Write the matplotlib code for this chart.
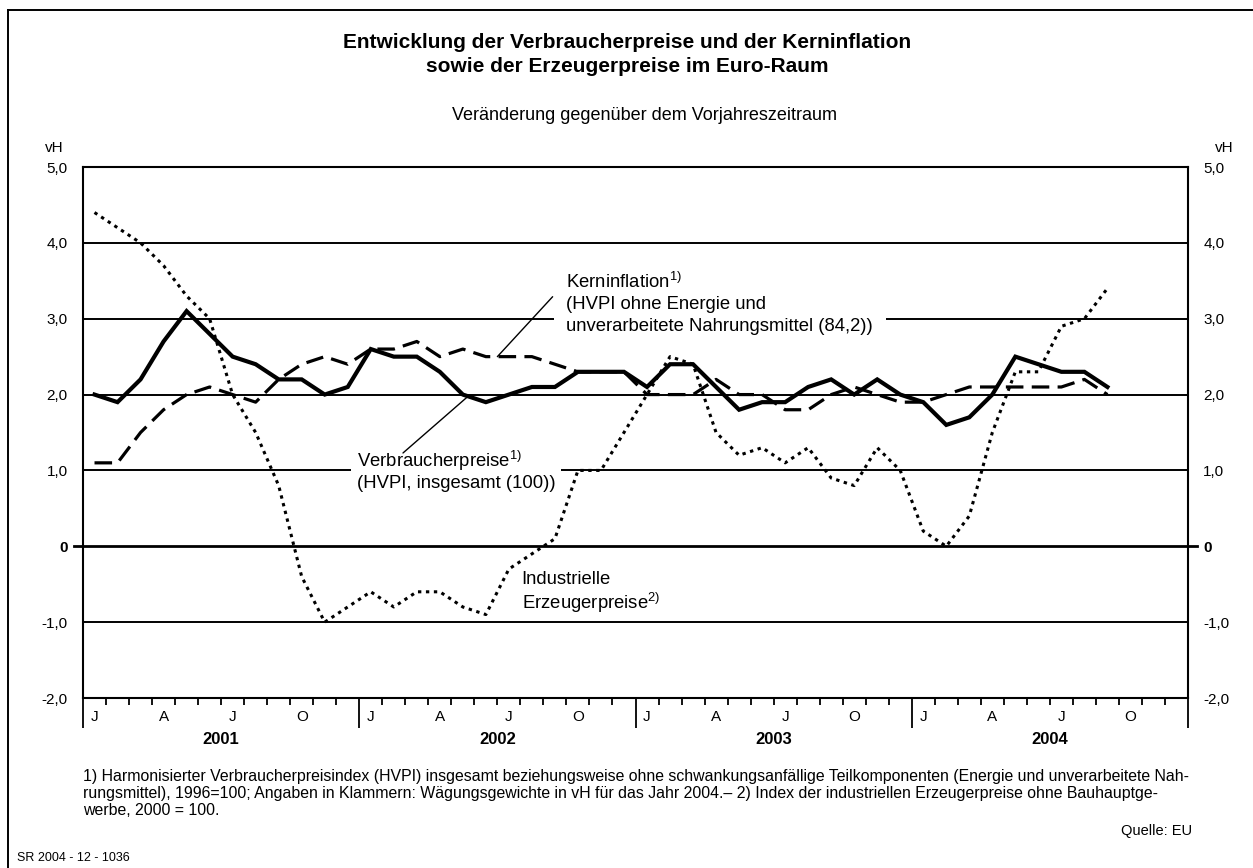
import matplotlib
matplotlib.use("Agg")
import matplotlib.pyplot as plt
from matplotlib.lines import Line2D
import numpy as np

plt.rcParams['font.family'] = ['Liberation Sans', 'DejaVu Sans']
plt.rcParams['mathtext.fontset'] = 'custom'
plt.rcParams['mathtext.rm'] = 'Liberation Sans'
plt.rcParams['mathtext.it'] = 'Liberation Sans:italic'
plt.rcParams['mathtext.bf'] = 'Liberation Sans:bold'

# monthly values, Jan 2001 .. Sep 2004, change vs. previous year in vH
hvpi = [2.0, 1.9, 2.2, 2.7, 3.1, 2.8, 2.5, 2.4, 2.2, 2.2, 2.0, 2.1,
        2.6, 2.5, 2.5, 2.3, 2.0, 1.9, 2.0, 2.1, 2.1, 2.3, 2.3, 2.3,
        2.1, 2.4, 2.4, 2.1, 1.8, 1.9, 1.9, 2.1, 2.2, 2.0, 2.2, 2.0,
        1.9, 1.6, 1.7, 2.0, 2.5, 2.4, 2.3, 2.3, 2.1]
kern = [1.1, 1.1, 1.5, 1.8, 2.0, 2.1, 2.0, 1.9, 2.2, 2.4, 2.5, 2.4,
        2.6, 2.6, 2.7, 2.5, 2.6, 2.5, 2.5, 2.5, 2.4, 2.3, 2.3, 2.3,
        2.0, 2.0, 2.0, 2.2, 2.0, 2.0, 1.8, 1.8, 2.0, 2.1, 2.0, 1.9,
        1.9, 2.0, 2.1, 2.1, 2.1, 2.1, 2.1, 2.2, 2.0]
erzeuger = [4.4, 4.2, 4.0, 3.7, 3.3, 3.0, 2.0, 1.5, 0.8, -0.4, -1.0, -0.8,
            -0.6, -0.8, -0.6, -0.6, -0.8, -0.9, -0.3, -0.1, 0.1, 1.0, 1.0, 1.5,
            2.0, 2.5, 2.4, 1.5, 1.2, 1.3, 1.1, 1.3, 0.9, 0.8, 1.3, 1.0,
            0.2, 0.0, 0.4, 1.5, 2.3, 2.3, 2.9, 3.0, 3.4]

years = ['2001', '2002', '2003', '2004']
month_labels = ['J', 'A', 'J', 'O']
yticks = [-2, -1, 0, 1, 2, 3, 4, 5]
ytick_labels = ['-2,0', '-1,0', '0', '1,0', '2,0', '3,0', '4,0', '5,0']

W, H = 1253, 868


def fx(x):
    return x / W


def fy(y):
    return 1 - y / H


fig = plt.figure(figsize=(W / 100, H / 100), dpi=100)
ax = fig.add_axes([fx(83), fy(698), (1188 - 83) / W, (698 - 167) / H])

x = np.arange(len(hvpi)) + 0.5

# grid
for v in [-1, 1, 2, 3, 4]:
    ax.axhline(v, color='black', lw=1.4, zorder=1)
ax.axhline(0, xmin=-0.008, xmax=1.008, color='black', lw=2.0, zorder=1, clip_on=False)

# series
ax.plot(x, kern, color='black', lw=2.3, dashes=(5.5, 2.6), zorder=3)
ax.plot(x, erzeuger, color='black', lw=2.2, dashes=(1.1, 1.5), zorder=3)
ax.plot(x, hvpi, color='black', lw=3.0, solid_joinstyle='miter', zorder=4)

ax.set_xlim(0, 48)
ax.set_ylim(-2, 5)
for s in ax.spines.values():
    s.set_linewidth(1.5)

ax.set_yticks(yticks)
ax.set_yticklabels(ytick_labels)
ax.tick_params(axis='y', length=0, pad=11, labelsize=11, left=False, right=False,
               labelleft=True, labelright=True)
for t in ax.yaxis.get_major_ticks():
    if t.label1.get_text() == '0':
        t.label1.set_fontweight('bold')
        t.label2.set_fontweight('bold')

ax.set_xticks(np.arange(0, 49, 12))
ax.set_xticks(np.arange(0, 49, 1), minor=True)
ax.set_xticklabels([])
ax.tick_params(axis='x', which='major', length=21.5, width=1.3, direction='out')
ax.tick_params(axis='x', which='minor', length=5, width=1.3, direction='out')

tr = ax.get_xaxis_transform()
for k, yr in enumerate(years):
    for q, m in enumerate(month_labels):
        ax.text(12 * k + 3 * q + 0.5, -0.035, m, transform=tr, ha='center',
                va='center', fontsize=11)
    ax.text(12 * k + 6, -0.078, yr, transform=tr, ha='center', va='center',
            fontsize=12, fontweight='bold')

# annotations
ax.text(21.0, 3.62, 'Kerninflation$^{1)}$\n(HVPI ohne Energie und\nunverarbeitete Nahrungsmittel (84,2))',
        ha='left', va='top', fontsize=13.3, linespacing=1.36, zorder=2,
        bbox=dict(boxstyle='square,pad=0.7', fc='white', ec='none'))
ax.annotate('', xy=(18.0, 2.5), xytext=(20.4, 3.29),
            arrowprops=dict(arrowstyle='-', lw=1.0, color='black', shrinkA=0, shrinkB=0), zorder=3)

ax.text(11.9, 1.29, 'Verbraucherpreise$^{1)}$\n(HVPI, insgesamt (100))',
        ha='left', va='top', fontsize=13.3, linespacing=1.18, zorder=2,
        bbox=dict(boxstyle='square,pad=0.3', fc='white', ec='none'))
ax.annotate('', xy=(16.7, 1.97), xytext=(13.9, 1.23),
            arrowprops=dict(arrowstyle='-', lw=1.0, color='black', shrinkA=0, shrinkB=0), zorder=3)

ax.text(19.05, -0.33, 'Industrielle\nErzeugerpreise$^{2)}$',
        ha='left', va='top', fontsize=13.3, linespacing=1.12, zorder=2)

# titles and other figure text
fig.text(fx(627), fy(43), 'Entwicklung der Verbraucherpreise und der Kerninflation',
         ha='center', va='center', fontsize=15, fontweight='bold')
fig.text(fx(627), fy(66), 'sowie der Erzeugerpreise im Euro-Raum',
         ha='center', va='center', fontsize=15, fontweight='bold')
fig.text(fx(645), fy(116), 'Veränderung gegenüber dem Vorjahreszeitraum',
         ha='center', va='center', fontsize=13)
fig.text(fx(45), fy(148), 'vH', ha='left', va='center', fontsize=11)
fig.text(fx(1215), fy(148), 'vH', ha='left', va='center', fontsize=11)

foot = ('1) Harmonisierter Verbraucherpreisindex (HVPI) insgesamt beziehungsweise ohne schwankungsanfällige '
        'Teilkomponenten (Energie und unverarbeitete Nah-\n'
        'rungsmittel), 1996=100; Angaben in Klammern: Wägungsgewichte in vH für das Jahr 2004.– 2) Index '
        'der industriellen Erzeugerpreise ohne Bauhauptge-\n'
        'werbe, 2000 = 100.')
fig.text(fx(83), fy(769), foot, ha='left', va='top', fontsize=11.4, linespacing=1.17)
fig.text(fx(1192), fy(831), 'Quelle: EU', ha='right', va='center', fontsize=10.5)
fig.text(fx(17), fy(858), 'SR 2004 - 12 - 1036', ha='left', va='center', fontsize=9)

# frame
fig.add_artist(Line2D([fx(8), fx(8)], [fy(10), 0], color='black', lw=1.4))
fig.add_artist(Line2D([fx(8), 1], [fy(10), fy(10)], color='black', lw=1.4))

fig.savefig('out.png', dpi=100)
